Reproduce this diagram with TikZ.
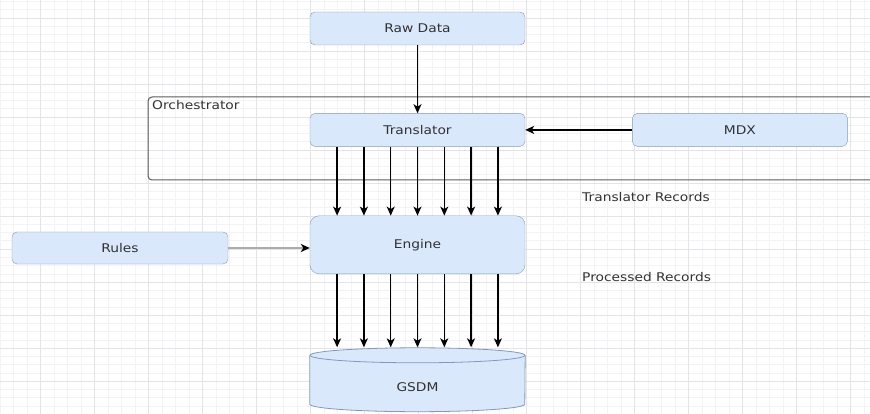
\documentclass[tikz,border=0pt]{standalone}
\usepackage{fontspec}
\setmainfont{DejaVu Sans}[FakeStretch=1.15]
\usepackage{tikz}
\usetikzlibrary{positioning,arrows.meta,calc}
\definecolor{cbox}{RGB}{218,232,252}
\definecolor{cedge}{RGB}{130,152,188}
\definecolor{ctext}{RGB}{50,50,50}
\definecolor{cframe}{RGB}{90,90,90}
\definecolor{cgrid}{RGB}{243,243,245}
\definecolor{cgridmaj}{RGB}{228,228,232}

\begin{document}
\begin{tikzpicture}[
  x=1pt,y=-1pt,
  font=\fontsize{12}{14}\selectfont,
  box/.style={rectangle,rounded corners=5pt,draw=cedge,fill=cbox,text=ctext,
    minimum width=215pt,minimum height=33pt,inner sep=0},
  lbl/.style={text=ctext,inner sep=0},
  a/.style={-{Stealth[length=9pt,width=8pt,inset=2.5pt,color=black]},line width=1.3pt,black},
  ag/.style={a,draw=gray!65},
]
\useasboundingbox (0,0) rectangle (870,414);
% background grid
\foreach \x in {0,13.5,...,870} \draw[cgrid,line width=0.5pt] (\x,0) -- (\x,414);
\foreach \y in {1.5,9.75,...,414} \draw[cgrid,line width=0.5pt] (0,\y) -- (870,\y);
\foreach \x in {40.5,94.5,...,870} \draw[cgridmaj,line width=0.6pt] (\x,0) -- (\x,414);
\foreach \y in {18,51,...,414} \draw[cgridmaj,line width=0.6pt] (0,\y) -- (870,\y);

% orchestrator frame, open to the right
\draw[cframe,line width=1pt,rounded corners=4pt] (870,97) -| (148,180) -- (870,180);
\node[lbl,anchor=north west] (orch) at (152,100) {Orchestrator};

\node[box] (raw) at (417.5,28.5) {Raw Data};
\node[box,below=68pt of raw] (tr) {Translator};
\node[box,right=107pt of tr] (mdx) {MDX};
\node[box,rounded corners=9pt,minimum height=58pt,below=69pt of tr] (en) {Engine};
\node[box,minimum width=216pt,minimum height=32pt] (ru) at (120,248) {Rules};

% database drum
\node[minimum width=215pt,minimum height=64pt,inner sep=0] (db) at (417.5,379.5) {};
\fill[cbox] ($(db.south)+(0,-7.5)$) ellipse[x radius=107.5,y radius=7.5];
\fill[cbox] ($(db.north west)+(0,8)$) rectangle ($(db.south east)+(0,-7.5)$);
\draw[cedge,line width=0.8pt] ($(db.north west)+(0,8)$) -- ($(db.south west)+(0,-7.5)$)
  arc[start angle=180,end angle=0,x radius=107.5,y radius=7.5] -- ($(db.north east)+(0,8)$);
\draw[cedge,line width=0.8pt,fill=cbox] ($(db.north)+(0,8)$) ellipse[x radius=107.5,y radius=7.5];
\node[lbl] (dbtxt) at ($(db.center)+(0,8)$) {GSDM};

\node[lbl,anchor=west] (trrec) at (582,197) {Translator Records};
\node[lbl,anchor=west] (prrec) at (582,277) {Processed Records};

\draw[a] (raw) -- (tr);
\draw[a] (mdx) -- (tr);
\draw[ag] (ru.east) -- (ru.east -| en.west);
\foreach \k in {-3,...,3} {
  \draw[a] ($(tr.south)+(\k*26.8,0)$) -- ($(en.north)+(\k*26.8,0)$);
  \draw[a] ($(en.south)+(\k*26.8,0)$) -- ($(db.north)+(\k*26.8,0)$);
}
\end{tikzpicture}
\end{document}
